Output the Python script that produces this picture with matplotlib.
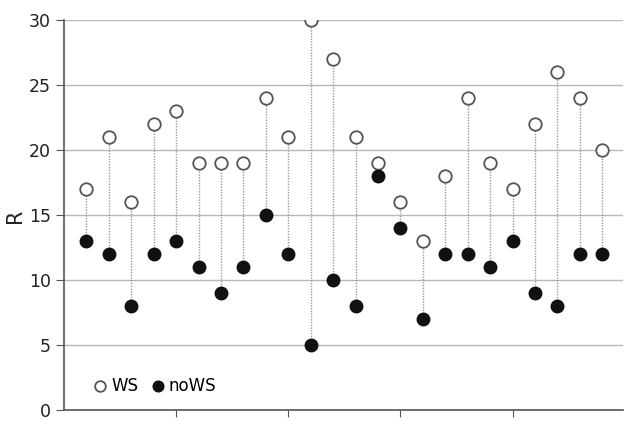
import numpy as np
import matplotlib.pyplot as plt

# values (24 participants)
ws = [17, 21, 16, 22, 23, 19, 19, 19, 24, 21, 30, 27,
      21, 19, 16, 13, 18, 24, 19, 17, 22, 26, 24, 20]
nows = [13, 12, 8, 12, 13, 11, 9, 11, 15, 12, 5, 10,
        8, 18, 14, 7, 12, 12, 11, 13, 9, 8, 12, 12]
yticks = [0, 5, 10, 15, 20, 25, 30]

x = np.arange(1, len(ws) + 1)

fig = plt.figure(figsize=(6.24, 4.21), dpi=100)
ax = fig.add_axes([0.1026, 0.025, 0.895, 0.927])

# gridlines
ax.set_axisbelow(True)
ax.yaxis.grid(True, color='#b8b8b8', linewidth=1)

# stems between the two conditions
ax.vlines(x, nows, ws, colors='#999999', linestyles=(0, (1, 1)), linewidth=1, zorder=2)

ax.plot(x, ws, 'o', markersize=9, markerfacecolor='white', markeredgecolor='#555555',
        markeredgewidth=1.3, linestyle='none', label='WS', zorder=3)
ax.plot(x, nows, 'o', markersize=9, markerfacecolor='#111111', markeredgecolor='#111111',
        linestyle='none', label='noWS', zorder=3)

ax.set_xlim(0, 24.9)
ax.set_ylim(0, 30)
ax.set_yticks(yticks)
ax.set_xticks([5, 10, 15, 20])
ax.set_xticklabels([])
ax.tick_params(axis='y', labelsize=12.5, length=6, color='#555555', labelcolor='#222222')
ax.tick_params(axis='x', length=5, color='#555555', direction='out')
ax.set_ylabel('R', fontsize=15, color='#222222', labelpad=3)

for s in ['top', 'right']:
    ax.spines[s].set_visible(False)
for s in ['left', 'bottom']:
    ax.spines[s].set_color('#555555')
    ax.spines[s].set_linewidth(1.2)

ax.legend(loc='lower left', bbox_to_anchor=(0.02, 0.0), ncol=2, frameon=False,
          fontsize=12, handletextpad=0.05, columnspacing=0.6, handlelength=1.2,
          markerscale=0.85)

plt.savefig('out.png', dpi=100)
